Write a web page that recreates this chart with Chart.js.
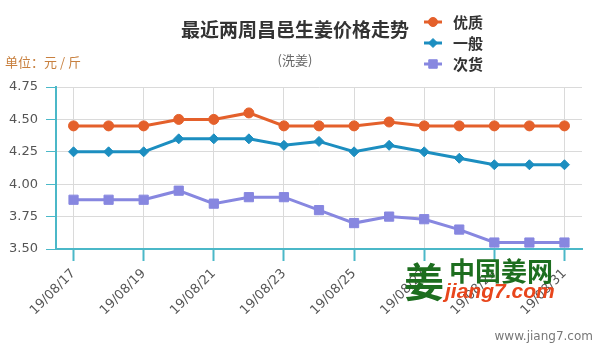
<!DOCTYPE html>
<html>
<head>
<meta charset="utf-8">
<script src="https://cdn.jsdelivr.net/npm/chart.js@4.4.0/dist/chart.umd.min.js"></script>
<style>
  body { margin: 0; background: #fff; }
  #wrap { width: 600px; height: 349px; position: relative; }
</style>
</head>
<body>
<div id="wrap"><canvas id="priceChart" width="600" height="349"></canvas></div>
<script>
// 最近两周昌邑生姜价格 (元/斤)
const dates = [
    '19/08/17', '19/08/18', '19/08/19', '19/08/20', '19/08/21', '19/08/22', '19/08/23', '19/08/24',
    '19/08/25', '19/08/26', '19/08/27', '19/08/28', '19/08/29', '19/08/30', '19/08/31'
];
const youzhi = [4.45, 4.45, 4.45, 4.50, 4.50, 4.55, 4.45, 4.45, 4.45, 4.48, 4.45, 4.45, 4.45, 4.45, 4.45];
const yiban = [4.25, 4.25, 4.25, 4.35, 4.35, 4.35, 4.30, 4.33, 4.25, 4.30, 4.25, 4.20, 4.15, 4.15, 4.15];
const cihuo = [3.88, 3.88, 3.88, 3.95, 3.85, 3.90, 3.90, 3.80, 3.70, 3.75, 3.73, 3.65, 3.55, 3.55, 3.55];
const yTicks = [3.50, 3.75, 4.00, 4.25, 4.50, 4.75];

const AXIS = '#4bb8c8';
const GRID = '#dadada';

function series(label, data, color, style, radius) {
    return {
        label: label,
        data: data,
        borderColor: color,
        backgroundColor: color,
        borderWidth: 3,
        pointStyle: style,
        pointRadius: radius,
        pointBorderWidth: 1,
        tension: 0
    };
}

// titles, unit, legend and site mark drawn straight onto the canvas
const decorations = {
    id: 'decorations',
    afterDraw(chart) {
        const ctx = chart.ctx;
        ctx.save();
        ctx.textBaseline = 'middle';

        ctx.fillStyle = '#333';
        ctx.textAlign = 'center';
        ctx.font = 'bold 19px "Noto Sans CJK SC"';
        ctx.fillText('最近两周昌邑生姜价格走势', 295, 30);
        ctx.fillStyle = '#666';
        ctx.font = '13px "Noto Sans CJK SC"';
        ctx.fillText('(洗姜)', 295, 60);

        ctx.textAlign = 'left';
        ctx.fillStyle = '#c8803f';
        ctx.fillText('单位：元 / 斤', 5, 62);

        // legend: short line with the series marker in the middle
        const rows = [22, 43, 64];
        chart.data.datasets.forEach((ds, i) => {
            const y = rows[i];
            ctx.strokeStyle = ds.borderColor;
            ctx.lineWidth = 3;
            ctx.beginPath();
            ctx.moveTo(424, y);
            ctx.lineTo(442, y);
            ctx.stroke();
            ctx.fillStyle = ds.borderColor;
            ctx.lineWidth = 1;
            Chart.helpers.drawPoint(ctx, {
                pointStyle: ds.pointStyle, rotation: 0, borderWidth: 1, radius: ds.pointRadius - 0.5
            }, 433, y);
            ctx.fillStyle = '#333';
            ctx.font = 'bold 15px "Noto Sans CJK SC"';
            ctx.fillText(ds.label, 453, y);
        });

        // site mark
        ctx.fillStyle = '#1d6e1f';
        ctx.font = 'bold 40px "Noto Sans CJK SC"';
        ctx.fillText('姜', 404, 282);
        ctx.font = 'bold 26px "Noto Sans CJK SC"';
        ctx.fillText('中国姜网', 449, 271);
        ctx.fillStyle = '#e8461c';
        ctx.font = 'italic bold 21px "Liberation Sans"';
        ctx.fillText('jiang7.com', 445, 292);
        ctx.fillStyle = '#777';
        ctx.textAlign = 'right';
        ctx.font = '12px "DejaVu Sans"';
        ctx.fillText('www.jiang7.com', 593, 337);
        ctx.restore();
    }
};

new Chart(document.getElementById('priceChart'), {
    type: 'line',
    data: {
        labels: dates,
        datasets: [
            series('优质', youzhi, '#e4602b', 'circle', 5),
            series('一般', yiban, '#1c8ec0', 'rectRot', 5),
            series('次货', cihuo, '#8787e0', 'rect', 6.5)
        ]
    },
    options: {
        responsive: false,
        animation: false,
        layout: { padding: { top: 87, right: 18, left: 0, bottom: 0 } },
        plugins: {
            legend: { display: false },
            title: { display: false },
            tooltip: { enabled: false }
        },
        scales: {
            x: {
                offset: true,
                afterFit: scale => { scale.height = 100; },
                border: { color: AXIS, width: 2 },
                grid: {
                    color: c => c.index % 2 === 0 ? GRID : 'rgba(0,0,0,0)',
                    tickColor: c => c.index % 2 === 0 ? AXIS : 'rgba(0,0,0,0)',
                    tickLength: 12,
                    tickWidth: 2
                },
                ticks: {
                    autoSkip: false,
                    minRotation: 45,
                    maxRotation: 45,
                    padding: 5,
                    color: '#555',
                    font: { family: 'DejaVu Sans', size: 13 },
                    callback: (v, i) => i % 2 === 0 ? dates[i] : ''
                }
            },
            y: {
                min: yTicks[0],
                max: yTicks[yTicks.length - 1],
                afterFit: scale => { scale.width = 56; },
                afterBuildTicks: scale => { scale.ticks = yTicks.map(v => ({ value: v })); },
                border: { color: AXIS, width: 2 },
                grid: { color: GRID, tickColor: AXIS, tickLength: 10 },
                ticks: {
                    padding: 8,
                    color: '#555',
                    font: { family: 'DejaVu Sans', size: 13 },
                    callback: v => v.toFixed(2)
                }
            }
        }
    },
    plugins: [decorations]
});
</script>
</body>
</html>
